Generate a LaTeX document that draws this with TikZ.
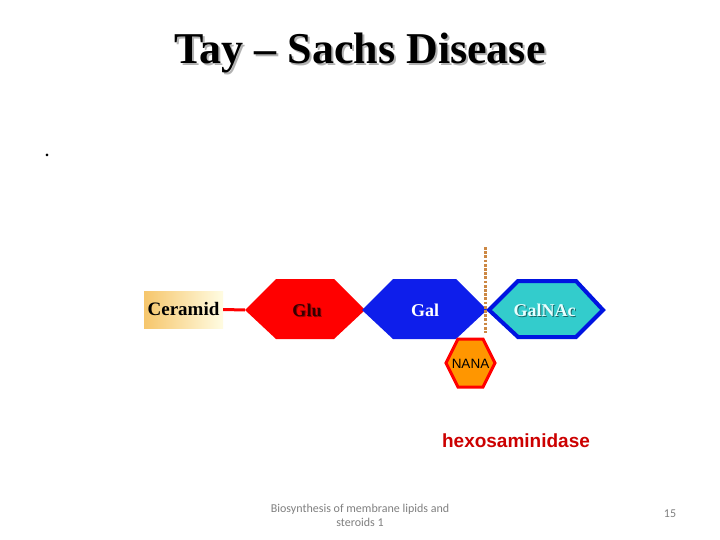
\documentclass[tikz,border=0pt]{standalone}
\usepackage{fontspec}
\setmainfont{Liberation Serif}
\newfontfamily\arialfont{Liberation Sans}
\newfontfamily\calibrifont{Carlito}
\usetikzlibrary{positioning}
\definecolor{glured}{RGB}{255,0,0}
\definecolor{galblue}{RGB}{14,30,235}
\definecolor{nacfill}{RGB}{51,204,204}
\definecolor{nacedge}{RGB}{0,20,225}
\definecolor{nanafill}{RGB}{255,150,0}
\definecolor{cutcol}{RGB}{204,136,68}
\definecolor{enzred}{RGB}{204,0,0}
\definecolor{footgray}{RGB}{128,128,128}

\begin{document}
\begin{tikzpicture}[x=1pt,y=-1pt]
    \tikzstyle{sugar}=[inner sep=0pt, font=\bfseries\fontsize{18}{18}\selectfont]
    \tikzstyle{link}=[draw=glured, line width=3pt]
    \tikzstyle{cut}=[draw=cutcol, line width=3pt, dash pattern=on 2.7pt off 1.5pt]
    \tikzstyle{foot}=[text=footgray, font=\calibrifont\fontsize{12}{14}\selectfont, align=center]

    \useasboundingbox[fill=white] (0,0) rectangle (720,540);

    % title, with its shadow
    \node[anchor=base, text=black!30, font=\bfseries\fontsize{44}{44}\selectfont] (title-sh) at (362,66) {Tay -- Sachs Disease};
    \node[anchor=base, font=\bfseries\fontsize{44}{44}\selectfont] (title) at (360,64) {Tay -- Sachs Disease};

    \node[font=\bfseries\fontsize{16}{16}\selectfont, inner sep=0pt] (dot) at (47,155) {.};

    % ceramide and the sugar chain
    \node[left color={rgb,255:red,246;green,198;blue,108}, right color={rgb,255:red,255;green,252;blue,226},
          minimum width=79pt, minimum height=37pt, inner sep=0pt,
          font=\bfseries\fontsize{19}{19}\selectfont] (cer) at (183.5,309.5) {Ceramid};

    \coordinate (glu-w) at (245,310);
    \fill[glured] (glu-w) -- (276,279) -- (334,279) -- (365,310) -- (334,339) -- (276,339) -- cycle;
    \fill[galblue] (362,310) -- (393,279) -- (456,279) -- (487,310) -- (456,339) -- (393,339) -- cycle;
    \filldraw[fill=nacfill, draw=nacedge, line width=4pt] (489,310) -- (518,281) -- (576,281) -- (603,310) -- (576,337) -- (518,337) -- cycle;

    \draw[link] (cer.east) -- (glu-w);

    \coordinate (cut-top) at (485,247);
    \coordinate (cut-bot) at (485,333);
    \draw[cut] (cut-top) -- (cut-bot);

    \filldraw[fill=nanafill, draw=glured, line width=3pt] (446,363) -- (458,339) -- (483,339) -- (495,363) -- (483,387) -- (458,387) -- cycle;

    \node[sugar, text=glured!60!black] (glu-sh) at (308,311) {Glu};
    \node[sugar, text=black!80!red] (glu) at (307,310) {Glu};
    \node[sugar, text=white] (gal) at (425,310) {Gal};
    \node[sugar, text=nacfill!50!black] (nac-sh) at (545.5,311) {GalNAc};
    \node[sugar, text={rgb,255:red,232;green,255;blue,255}] (nac) at (544.5,310) {GalNAc};
    \node[inner sep=0pt, font=\arialfont\fontsize{13.5}{13.5}\selectfont] (nana) at (470.5,364) {NANA};

    % enzyme and footer
    \node[text=enzred, inner sep=0pt, font=\arialfont\bfseries\fontsize{19}{19}\selectfont] (enz) at (516,441) {hexosaminidase};
    \node[foot] (src) at (360,515) {Biosynthesis of membrane lipids and\\steroids 1};
    \node[foot] (page) at (670,514) {15};
\end{tikzpicture}
\end{document}
